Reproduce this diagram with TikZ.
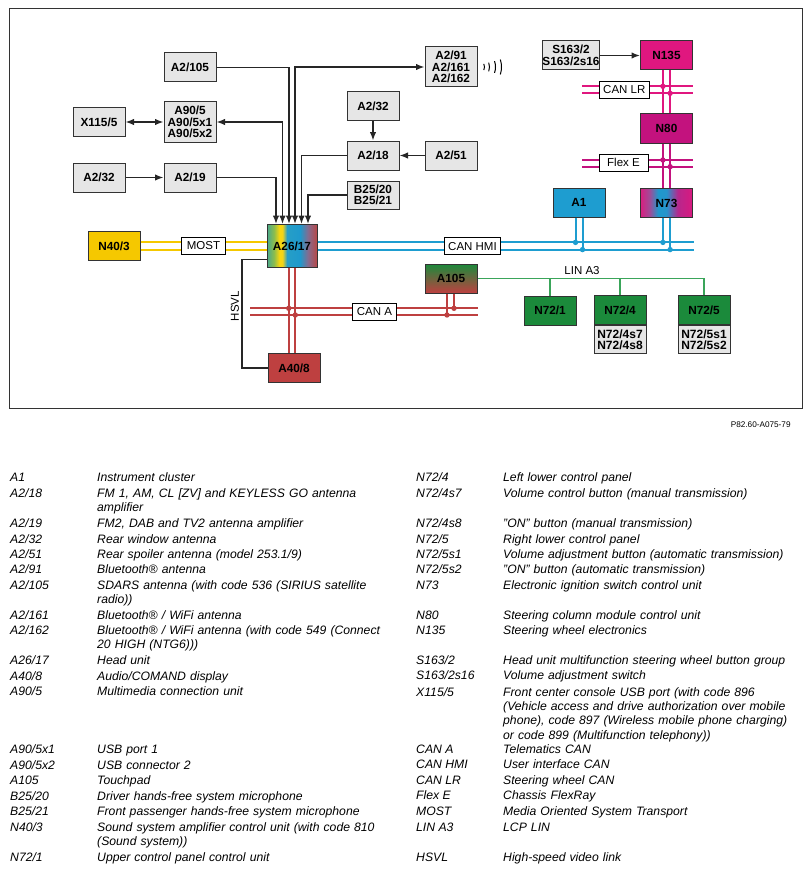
\documentclass[tikz,border=0pt]{standalone}
\usepackage{fontspec}
\setmainfont{Liberation Sans}
\usepackage{xcolor}
\usetikzlibrary{arrows.meta}
\definecolor{boxgray}{HTML}{E6E6E6}
\definecolor{edgegray}{HTML}{333333}
\definecolor{mostyellow}{HTML}{F5C800}
\definecolor{hmiblue}{HTML}{1E9DD0}
\definecolor{lrpink}{HTML}{E0177F}
\definecolor{flexpurple}{HTML}{C3127E}
\definecolor{canred}{HTML}{BE4040}
\definecolor{linegreen}{HTML}{1B8A3B}
\definecolor{linwire}{HTML}{3AA55A}
\pgfdeclarehorizontalshading{headunit}{100bp}{rgb(0bp)=(0.28,0.66,0.55); rgb(25bp)=(0.28,0.66,0.55); rgb(32bp)=(0.55,0.74,0.3); rgb(37.5bp)=(0.98,0.84,0.05); rgb(40.5bp)=(0.95,0.83,0.1); rgb(45bp)=(0.15,0.62,0.78); rgb(58bp)=(0.12,0.6,0.8); rgb(66bp)=(0.52,0.42,0.56); rgb(75bp)=(0.72,0.28,0.28); rgb(100bp)=(0.72,0.28,0.28)}
\pgfdeclarehorizontalshading{ignition}{100bp}{rgb(0bp)=(0.85,0.12,0.5); rgb(25bp)=(0.85,0.12,0.5); rgb(34bp)=(0.62,0.3,0.6); rgb(42bp)=(0.12,0.6,0.8); rgb(50bp)=(0.15,0.58,0.8); rgb(61bp)=(0.72,0.15,0.55); rgb(75bp)=(0.85,0.1,0.5); rgb(100bp)=(0.85,0.1,0.5)}
\begin{document}
\begin{tikzpicture}[x=1pt,y=-1pt,>={Latex[length=8.5pt,width=6.5pt]}]
  \tikzstyle{unit}=[draw=edgegray,line width=1pt,fill=boxgray,minimum width=52pt,minimum height=29pt,inner sep=0pt,align=center,font=\fontsize{11.8}{11.6}\selectfont\bfseries]
  \tikzstyle{busname}=[draw=black,fill=white,line width=0.8pt,inner xsep=4pt,inner ysep=0pt,minimum height=17pt,font=\fontsize{11.5}{12}\selectfont]
  \tikzstyle{link}=[draw=black!85,line width=1.4pt]
  \tikzstyle{busline}=[line width=2pt]
  \tikzstyle{key}=[anchor=base west,inner sep=0pt,font=\fontsize{12.2}{14.2}\selectfont\itshape]
  \tikzstyle{desc}=[key,text width=320pt,align=left]
  \useasboundingbox (0,0) rectangle (811,872);
  \draw[line width=0.9pt,edgegray] (9,8) rectangle (802,408);
  \node[unit] (a2105) at (190,67.5) {A2/105};
  \node[unit] (x1155) at (99,122) {X115/5};
  \node[unit,minimum height=40pt] (a905) at (190,122) {A90/5\\A90/5x1\\A90/5x2};
  \node[unit] (a232a) at (99,177.5) {A2/32};
  \node[unit] (a219) at (190,177.5) {A2/19};
  \node[unit,minimum height=40pt] (a291) at (451,67) {A2/91\\A2/161\\A2/162};
  \node[unit] (a232b) at (373,106.5) {A2/32};
  \node[unit] (a218) at (373,155.5) {A2/18};
  \node[unit] (a251) at (451,155.5) {A2/51};
  \node[unit,minimum height=28pt] (b2520) at (373,195) {B25/20\\B25/21};
  \node[unit,minimum width=56pt] (s1632) at (571,55.5) {S163/2\\S163/2s16};
  \node[unit,fill=lrpink] (n135) at (666.5,55.5) {N135};
  \node[unit,fill=flexpurple] (n80) at (666.5,128.5) {N80};
  \node[unit,shading=ignition] (n73) at (666.5,203) {N73};
  \node[unit,fill=hmiblue] (a1) at (579,202.5) {A1};
  \node[unit,fill=mostyellow] (n403) at (114,246) {N40/3};
  \node[unit,minimum width=50pt,minimum height=43pt,shading=headunit] (a2617) at (292,246) {A26/17};
  \node[unit,fill=canred] (a408) at (294,368) {A40/8};
  \node[unit,top color=linegreen,bottom color=canred] (a105) at (451,278.5) {A105};
  \node[unit,fill=linegreen] (n721) at (550,310.5) {N72/1};
  \node[unit,fill=linegreen,minimum height=28.5pt] (n724) at (620,310) {N72/4};
  \node[unit,minimum height=28.5pt,anchor=north,font=\fontsize{12}{10.8}\selectfont\bfseries] (n724s) at (n724.south) {N72/4s7\\N72/4s8};
  \node[unit,fill=linegreen,minimum height=28.5pt] (n725) at (704,310) {N72/5};
  \node[unit,minimum height=28.5pt,anchor=north,font=\fontsize{12}{10.8}\selectfont\bfseries] (n725s) at (n725.south) {N72/5s1\\N72/5s2};
  \draw[link,->] (a2105.east) -| ([xshift=-3pt]a2617.north);
  \draw[link,<->] (a905.east) -| ([xshift=-9.5pt]a2617.north);
  \draw[link,->] (a219.east) -| ([xshift=-16pt]a2617.north);
  \draw[link,<->] (a291.west) -| ([xshift=3pt]a2617.north);
  \draw[link,->] (a218.west) -| ([xshift=9.5pt]a2617.north);
  \draw[link,->] (b2520.west) -| ([xshift=16pt]a2617.north);
  \draw[link,<->] (x1155) -- (a905);
  \draw[link,->] (a232a) -- (a219);
  \draw[link,->] (a232b) -- (a218);
  \draw[link,->] (a251) -- (a218);
  \draw[link,->] (s1632) -- (n135);
  \foreach \r/\a in {7/26,12/21,18/19,24/18}
    \draw[line width=1pt] (a291.east) ++(-\a:\r pt) arc[start angle=-\a,end angle=\a,radius=\r pt];
  \draw[link] ([yshift=8.5pt]a2617.south west) -- ++(-24.5,0) |- (a408.west);
  \node[rotate=90,inner sep=0pt,font=\fontsize{11.5}{12}\selectfont] (hsvl) at (235,306) {HSVL};
  \draw[busline,mostyellow] ([yshift=3.8pt]n403.east) -- ([yshift=3.8pt]a2617.west);
  \draw[busline,mostyellow] ([yshift=-3.8pt]n403.east) -- ([yshift=-3.8pt]a2617.west);
  \node[busname,minimum width=44pt] (most) at (203.5,246) {MOST};
  \coordinate (hmiu) at (694,242.4);
  \coordinate (hmil) at (694,249.6);
  \draw[busline,hmiblue] (a2617.east |- hmiu) -- (hmiu);
  \draw[busline,hmiblue] (a2617.east |- hmil) -- (hmil);
  \draw[busline,hmiblue] ([xshift=-3.5pt]a1.south) -- ([xshift=-3.5pt]a1.south |- hmiu) coordinate (a1u);
  \draw[busline,hmiblue] ([xshift=3.5pt]a1.south) -- ([xshift=3.5pt]a1.south |- hmil) coordinate (a1l);
  \draw[busline,hmiblue] ([xshift=-3.6pt]n73.south) -- ([xshift=-3.6pt]n73.south |- hmiu) coordinate (n73u);
  \draw[busline,hmiblue] ([xshift=3.6pt]n73.south) -- ([xshift=3.6pt]n73.south |- hmil) coordinate (n73l);
  \foreach \p in {a1u,a1l,n73u,n73l} \fill[hmiblue] (\p) circle (2.7);
  \node[busname] (canhmi) at (472.5,246.3) {CAN HMI};
  \coordinate (lru) at (582,86.3);
  \coordinate (lrl) at (582,93.3);
  \draw[busline,lrpink] (lru) -- (lru -| n135.east);
  \draw[busline,lrpink] (lrl) -- (lrl -| n135.east);
  \draw[busline,lrpink] ([xshift=-3.6pt]n135.south) -- ([xshift=-3.6pt]n80.north);
  \draw[busline,lrpink] ([xshift=3.6pt]n135.south) -- ([xshift=3.6pt]n80.north);
  \fill[lrpink] ([xshift=-3.6pt]n135.south |- lru) circle (2.7);
  \fill[lrpink] ([xshift=3.6pt]n135.south |- lrl) circle (2.7);
  \node[busname] (canlr) at (624.3,89.7) {CAN LR};
  \coordinate (feu) at (582,160);
  \coordinate (fel) at (582,166.7);
  \draw[busline,flexpurple] (feu) -- (feu -| n80.east);
  \draw[busline,flexpurple] (fel) -- (fel -| n80.east);
  \draw[busline,flexpurple] ([xshift=-3.6pt]n80.south) -- ([xshift=-3.6pt]n73.north);
  \draw[busline,flexpurple] ([xshift=3.6pt]n80.south) -- ([xshift=3.6pt]n73.north);
  \fill[flexpurple] ([xshift=-3.6pt]n80.south |- feu) circle (2.7);
  \fill[flexpurple] ([xshift=3.6pt]n80.south |- fel) circle (2.7);
  \node[busname,minimum width=49pt] (flexe) at (623.5,162.7) {Flex E};
  \coordinate (cau) at (250,308.3);
  \coordinate (cal) at (250,315);
  \draw[busline,canred] (cau) -- (cau -| a105.east);
  \draw[busline,canred] (cal) -- (cal -| a105.east);
  \draw[busline,canred] ([xshift=-3.3pt]a2617.south) -- ([xshift=-3.3pt]a2617.south |- a408.north);
  \draw[busline,canred] ([xshift=3.3pt]a2617.south) -- ([xshift=3.3pt]a2617.south |- a408.north);
  \draw[busline,canred] ([xshift=-4pt]a105.south) -- ([xshift=-4pt]a105.south |- cal) coordinate (a105l);
  \draw[busline,canred] ([xshift=3pt]a105.south) -- ([xshift=3pt]a105.south |- cau) coordinate (a105u);
  \fill[canred] ([xshift=-3.3pt]a2617.south |- cau) circle (2.7);
  \fill[canred] ([xshift=3.3pt]a2617.south |- cal) circle (2.7);
  \fill[canred] (a105l) circle (2.7);
  \fill[canred] (a105u) circle (2.7);
  \node[busname,minimum width=44pt] (cana) at (374.5,311.7) {CAN A};
  \draw[linwire,line width=1.5pt] (a105.east) -| (n725.north);
  \draw[linwire,line width=1.5pt] (n721.north) -- (n721.north |- a105.east);
  \draw[linwire,line width=1.5pt] (n724.north) -- (n724.north |- a105.east);
  \node[inner sep=0pt,font=\fontsize{11.5}{12}\selectfont] (lina3) at (582,270.5) {LIN A3};
  \node[inner sep=0pt,font=\fontsize{8.2}{9}\selectfont] (srcref) at (760.7,424.5) {P82.60-A075-79};
  \foreach \y/\k/\d [count=\i] in {481.6/{A1}/{Instrument cluster},
      497/{A2/18}/{FM 1, AM, CL [ZV] and KEYLESS GO antenna\\amplifier},
      527.6/{A2/19}/{FM2, DAB and TV2 antenna amplifier},
      543.3/{A2/32}/{Rear window antenna},
      558.6/{A2/51}/{Rear spoiler antenna (model 253.1/9)},
      573.6/{A2/91}/{Bluetooth® antenna},
      589.3/{A2/105}/{SDARS antenna (with code 536 (SIRIUS satellite\\radio))},
      619.3/{A2/161}/{Bluetooth® / WiFi antenna},
      634.3/{A2/162}/{Bluetooth® / WiFi antenna (with code 549 (Connect\\20 HIGH (NTG6)))},
      664.3/{A26/17}/{Head unit},
      680/{A40/8}/{Audio/COMAND display},
      695.8/{A90/5}/{Multimedia connection unit},
      753.3/{A90/5x1}/{USB port 1},
      769/{A90/5x2}/{USB connector 2},
      784.3/{A105}/{Touchpad},
      800/{B25/20}/{Driver hands-free system microphone},
      815.8/{B25/21}/{Front passenger hands-free system microphone},
      831/{N40/3}/{Sound system amplifier control unit (with code 810\\(Sound system))},
      861/{N72/1}/{Upper control panel control unit}} {
    \node[key] (lk\i) at (10,\y) {\k};
    \node[desc] (ld\i) at (97,\y) {\d};
  }
  \foreach \y/\k/\d [count=\i] in {481.6/{N72/4}/{Left lower control panel},
      497/{N72/4s7}/{Volume control button (manual transmission)},
      527/{N72/4s8}/{"ON" button (manual transmission)},
      543.3/{N72/5}/{Right lower control panel},
      558.6/{N72/5s1}/{Volume adjustment button (automatic transmission)},
      573.6/{N72/5s2}/{"ON" button (automatic transmission)},
      589.3/{N73}/{Electronic ignition switch control unit},
      619.3/{N80}/{Steering column module control unit},
      634.3/{N135}/{Steering wheel electronics},
      664.3/{S163/2}/{Head unit multifunction steering wheel button group},
      679.5/{S163/2s16}/{Volume adjustment switch},
      696.5/{X115/5}/{Front center console USB port (with code 896\\(Vehicle access and drive authorization over mobile\\phone), code 897 (Wireless mobile phone charging)\\or code 899 (Multifunction telephony))},
      753.6/{CAN A}/{Telematics CAN},
      768.6/{CAN HMI}/{User interface CAN},
      784/{CAN LR}/{Steering wheel CAN},
      799.5/{Flex E}/{Chassis FlexRay},
      815.3/{MOST}/{Media Oriented System Transport},
      831/{LIN A3}/{LCP LIN},
      861/{HSVL}/{High-speed video link}} {
    \node[key] (rk\i) at (416,\y) {\k};
    \node[desc] (rd\i) at (503,\y) {\d};
  }
\end{tikzpicture}
\end{document}
